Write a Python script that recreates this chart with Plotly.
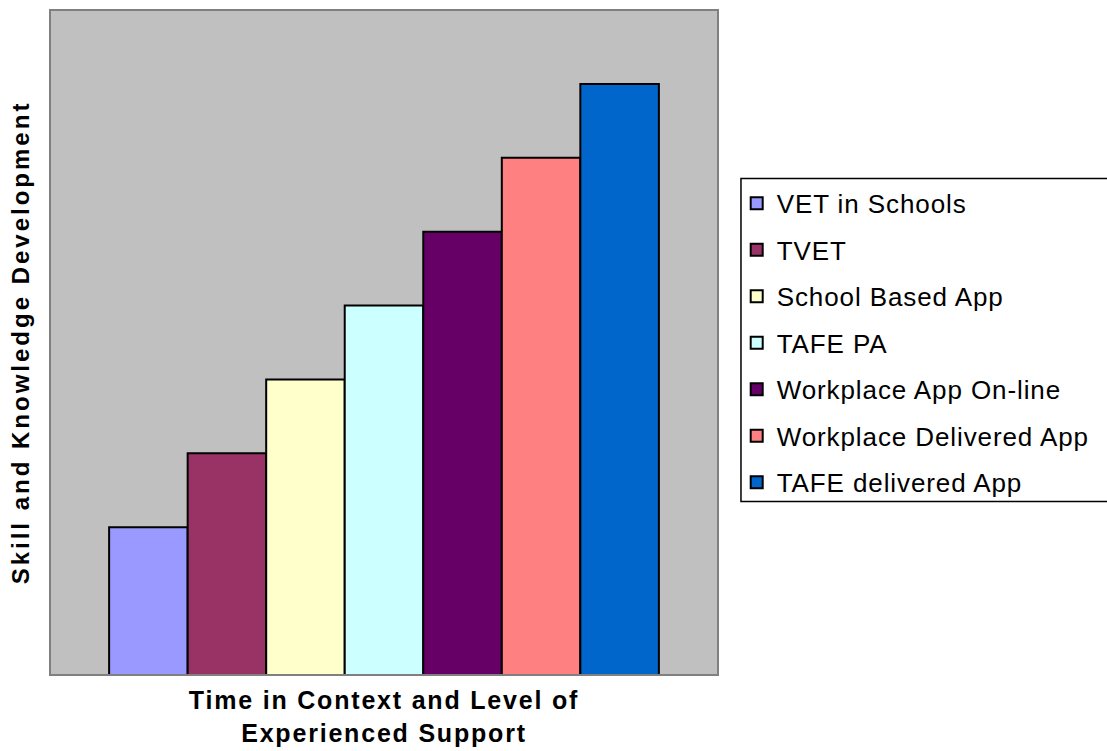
import plotly.graph_objects as go

# Pathways, ordered by time in context / level of support
pathways = [
    "VET in Schools",
    "TVET",
    "School Based App",
    "TAFE PA",
    "Workplace App On-line",
    "Workplace Delivered App",
    "TAFE delivered App",
]
development = [2, 3, 4, 5, 6, 7, 8]
colors = ["#9999FF", "#993366", "#FFFFCC", "#CCFFFF", "#660066", "#FF8080", "#0066CC"]

x_title = ["Time in Context and Level of", "Experienced Support"]
y_title = "Skill and Knowledge Development"

FONT = "Arial, 'Liberation Sans', sans-serif"


def spaced(text, px):
    return f'<span style="letter-spacing:{px}px">{text}</span>'


fig = go.Figure()
for name, val, col in zip(pathways, development, colors):
    fig.add_trace(go.Bar(
        x=[""], y=[val], name=spaced(name, 0.9), legendgroup=name,
        marker=dict(color=col, line=dict(color="black", width=2)),
    ))

fig.update_layout(
    width=1107, height=751,
    margin=dict(l=50, r=389, t=10, b=74),
    paper_bgcolor="white", plot_bgcolor="#C0C0C0",
    barmode="group", bargap=0.177, bargroupgap=0,
    font=dict(family=FONT, color="black"),
    showlegend=True,
    legend=dict(
        x=1.028, xanchor="left", y=0.7445, yanchor="top",
        bgcolor="rgba(0,0,0,0)", borderwidth=0,
        font=dict(size=26, family=FONT),
        tracegroupgap=9.7, itemsizing="constant",
    ),
    xaxis=dict(
        range=[-0.5, 0.5], showticklabels=False, ticks="", showgrid=False, zeroline=False,
        title=dict(text="<b>" + spaced("<br>".join(x_title), 1.8) + "</b>",
                   font=dict(size=25, family=FONT), standoff=16),
    ),
    yaxis=dict(
        range=[0, 9], showticklabels=False, ticks="", showgrid=False, zeroline=False,
        title=dict(text="<b>" + spaced(y_title, 3) + "</b>",
                   font=dict(size=24, family=FONT), standoff=12),
    ),
    shapes=[
        # plot-area frame
        dict(type="rect", xref="paper", yref="paper", x0=0, x1=1, y0=0, y1=1,
             line=dict(color="#808080", width=2), layer="above"),
        # legend frame, running off the right edge of the page
        dict(type="rect", xref="paper", yref="paper", x0=1.0344, x1=1.7, y0=0.2609, y1=0.7466,
             line=dict(color="black", width=1.5), fillcolor="rgba(0,0,0,0)", layer="above"),
    ],
)

fig.write_html("out.html")
